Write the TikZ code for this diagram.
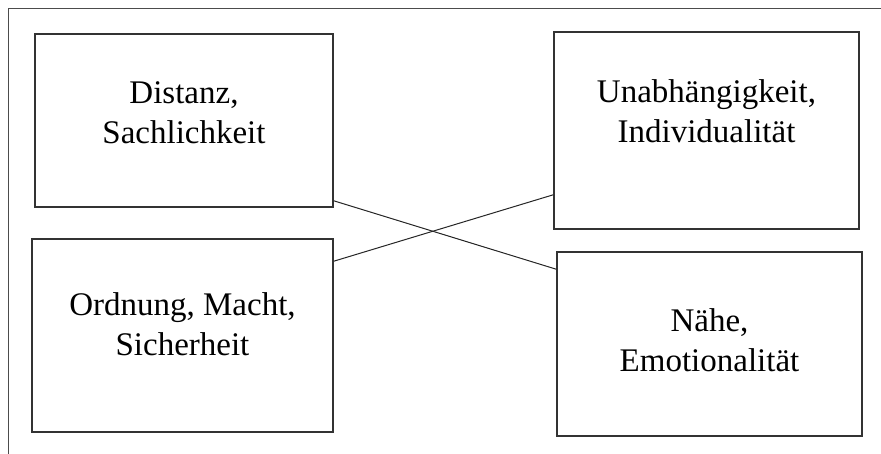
\documentclass[tikz,border=0pt]{standalone}
\usepackage{fontspec}
\setmainfont{Liberation Serif}

\tikzset{
  feld/.style={draw=black!80, line width=1.6pt, rectangle, inner sep=0pt},
  wort/.style={font=\fontsize{33}{40}\selectfont, align=center, anchor=base, inner sep=0pt},
  kreuz/.style={draw=black!85, line width=1pt}
}

\begin{document}
\begin{tikzpicture}[x=1pt, y=-1pt]

    \useasboundingbox (0,0) rectangle (881,453);
    \clip (0,0) rectangle (881,453);
    \fill[white] (0,0) rectangle (881,453);
    \draw[black!70, line width=1.3pt] (8.5,8.5) rectangle (900,480);

    \node[feld, minimum width=298pt, minimum height=173pt] (distanz) at (184,120.5) {};
    \node[feld, minimum width=301pt, minimum height=193pt] (ordnung) at (182.5,335.5) {};
    \node[feld, minimum width=305pt, minimum height=197pt] (unabh) at (706.5,130.5) {};
    \node[feld, minimum width=305pt, minimum height=184pt] (naehe) at (709.5,344) {};

    \node[wort] (tdistanz) at (184,143) {Distanz,\\Sachlichkeit};
    \node[wort] (tordnung) at (182.5,355) {Ordnung, Macht,\\Sicherheit};
    \node[wort] (tunabh) at (706.5,142) {Unabhängigkeit,\\Individualität};
    \node[wort] (tnaehe) at (709.5,371) {Nähe,\\Emotionalität};

    \draw[kreuz] ([yshift=7pt]distanz.south east) -- ([yshift=-18pt]naehe.north west);
    \draw[kreuz] ([yshift=-23pt]ordnung.north east) -- ([yshift=35pt]unabh.south west);

\end{tikzpicture}
\end{document}
